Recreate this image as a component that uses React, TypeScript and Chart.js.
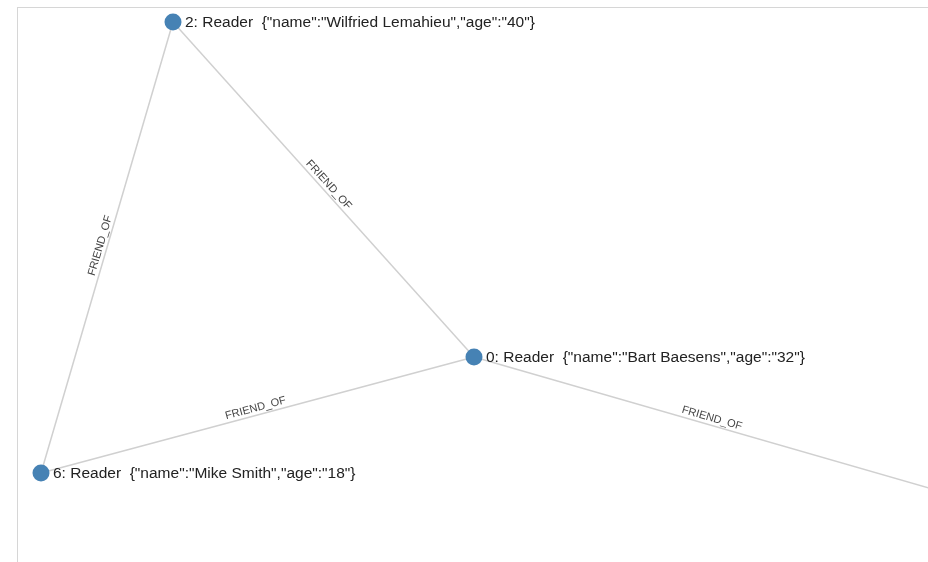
import React, { useEffect, useRef } from "react";
import { Chart, registerables } from "chart.js";

Chart.register(...registerables);

// Graph data: nodes (id, label, layout position) and relationships
const nodeIds = [2, 0, 6, 7];
const nodeLabels = [
  '2: Reader  {"name":"Wilfried Lemahieu","age":"40"}',
  '0: Reader  {"name":"Bart Baesens","age":"32"}',
  '6: Reader  {"name":"Mike Smith","age":"18"}',
  "",
];
const nodeX = [173, 474, 41, 946];
const nodeY = [22, 357, 473, 493];

const edgeSource = [2, 2, 6, 0];
const edgeTarget = [0, 6, 0, 7];
const edgeTypes = ["FRIEND_OF", "FRIEND_OF", "FRIEND_OF", "FRIEND_OF"];

const W = 928;
const H = 562;

function pos(id: number) {
  const i = nodeIds.indexOf(id);
  return { x: nodeX[i], y: nodeY[i] };
}

const labelPlugin = {
  id: "graphLabels",
  afterDatasetsDraw(chart: any) {
    const ctx = chart.ctx;
    const xs = chart.scales.x;
    const ys = chart.scales.y;
    ctx.save();
    // edge labels
    ctx.font = "11px 'Liberation Sans', Arial, sans-serif";
    ctx.fillStyle = "#444";
    ctx.textAlign = "center";
    ctx.textBaseline = "middle";
    edgeSource.forEach((s, i) => {
      const a = pos(s);
      const b = pos(edgeTarget[i]);
      const ax = xs.getPixelForValue(a.x), ay = ys.getPixelForValue(a.y);
      const bx = xs.getPixelForValue(b.x), by = ys.getPixelForValue(b.y);
      let ang = Math.atan2(by - ay, bx - ax);
      if (ang > Math.PI / 2) ang -= Math.PI;
      if (ang < -Math.PI / 2) ang += Math.PI;
      const mx = (ax + bx) / 2, my = (ay + by) / 2;
      ctx.save();
      ctx.translate(mx, my);
      ctx.rotate(ang);
      ctx.fillText(edgeTypes[i], 0, -7);
      ctx.restore();
    });
    // node labels
    ctx.font = "15.5px 'Liberation Sans', Arial, sans-serif";
    ctx.fillStyle = "#222";
    ctx.textAlign = "left";
    ctx.textBaseline = "middle";
    nodeIds.forEach((_, i) => {
      const px = xs.getPixelForValue(nodeX[i]);
      const py = ys.getPixelForValue(nodeY[i]);
      ctx.fillText(nodeLabels[i], px + 12, py + 1);
    });
    ctx.restore();
  },
};

export default function App() {
  const ref = useRef<HTMLCanvasElement>(null);
  useEffect(() => {
    if (!ref.current) return;
    const edgeSets = edgeSource.map((s, i) => {
      const a = pos(s);
      const b = pos(edgeTarget[i]);
      return {
        type: "line" as const,
        data: [a, b],
        showLine: true,
        borderColor: "#d0d0d0",
        borderWidth: 1.5,
        pointRadius: 0,
        order: 1,
      };
    });
    const chart = new Chart(ref.current, {
      type: "scatter",
      data: {
        datasets: [
          {
            data: nodeIds.map((_, i) => ({ x: nodeX[i], y: nodeY[i] })),
            backgroundColor: "#4682b4",
            borderWidth: 0,
            pointRadius: 8.5,
            pointHoverRadius: 8.5,
            order: 0,
          } as any,
          ...edgeSets,
        ],
      },
      options: {
        animation: false,
        responsive: true,
        maintainAspectRatio: false,
        devicePixelRatio: 1,
        layout: { padding: 0, autoPadding: false },
        plugins: { legend: { display: false }, tooltip: { enabled: false } },
        events: [],
        scales: {
          x: { type: "linear", min: 0, max: W, display: false },
          y: { type: "linear", min: 0, max: H, reverse: true, display: false },
        },
      },
      plugins: [labelPlugin],
    });
    return () => chart.destroy();
  }, []);
  return (
    <div style={{ position: "fixed", left: 0, top: 0, width: W, height: H, overflow: "hidden", background: "#fff" }}>
      <div
        style={{
          position: "absolute",
          left: 17,
          top: 7,
          width: 2000,
          height: 2000,
          borderLeft: "1px solid #d6d6d6",
          borderTop: "1px solid #d6d6d6",
        }}
      />
      <canvas ref={ref} style={{ position: "absolute", left: 0, top: 0, width: W, height: H }} />
    </div>
  );
}
